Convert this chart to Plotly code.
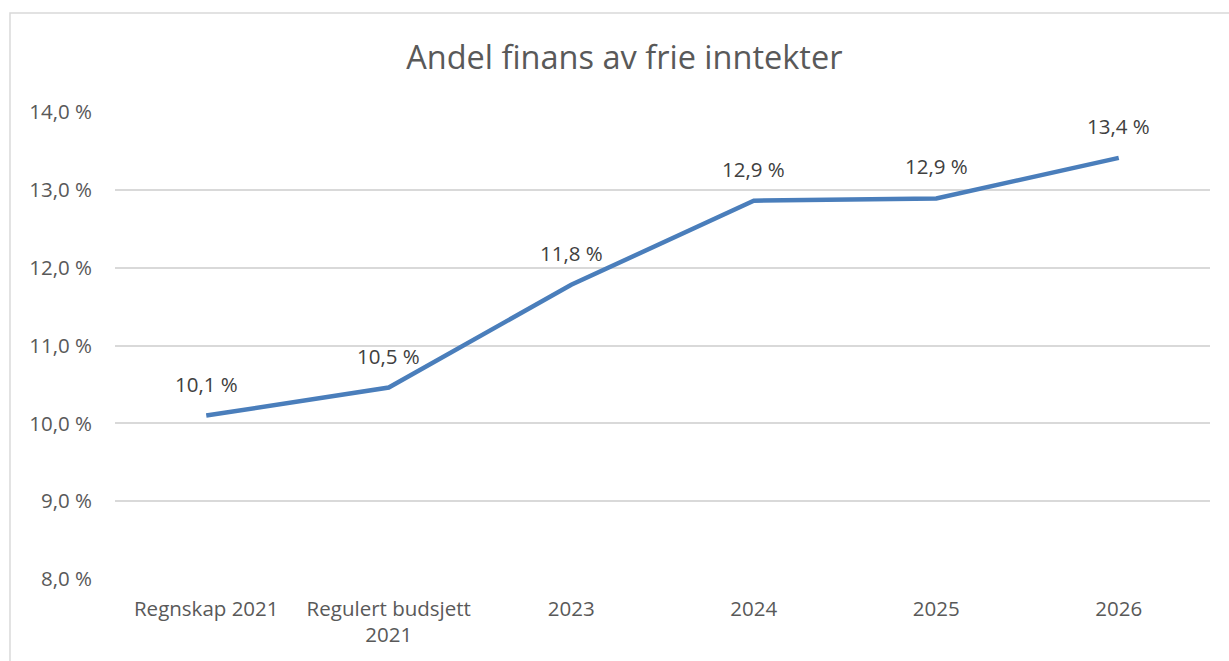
import plotly.graph_objects as go

categories = ["Regnskap 2021", "Regulert budsjett<br>2021", "2023", "2024", "2025", "2026"]
values = [10.1, 10.46, 11.78, 12.86, 12.89, 13.41]
tick_vals = [8, 9, 10, 11, 12, 13, 14]
tick_text = [f"{t:.1f}".replace(".", ",") + " %" for t in tick_vals]

FONT = "Open Sans, Liberation Sans, sans-serif"
GREY = "#595959"

fig = go.Figure()
fig.add_trace(go.Scatter(
    x=list(range(len(categories))), y=values, mode="lines",
    line=dict(color="#4a7ebb", width=4.5),
    hoverinfo="skip", showlegend=False,
))

for i, v in enumerate(values):
    fig.add_annotation(
        x=i, y=v, text=f"{v:.1f}".replace(".", ",") + " %",
        showarrow=False, yshift=32,
        font=dict(family=FONT, size=20.5, color="#404040"),
    )

fig.add_shape(type="rect", xref="paper", yref="paper",
              x0=-0.0959, y0=-0.4, x1=1.2, y1=1.212,
              line=dict(color="#d9d9d9", width=1.5), fillcolor="rgba(0,0,0,0)", layer="below")

fig.update_layout(
    width=1229, height=661,
    margin=dict(l=115, r=19, t=112, b=82),
    paper_bgcolor="white", plot_bgcolor="white",
    title=dict(text="Andel finans av frie inntekter", x=0.508, xanchor="center",
               y=1 - 58 / 661, yanchor="middle",
               font=dict(family=FONT, size=32.5, color=GREY)),
    xaxis=dict(range=[-0.5, 5.5], tickvals=list(range(len(categories))), ticktext=categories,
               showgrid=False, zeroline=False,
               showline=False, ticks="", tickfont=dict(family=FONT, size=20.5, color=GREY),
               ticklabelstandoff=15),
    yaxis=dict(range=[8, 14], tickvals=tick_vals, ticktext=tick_text,
               showgrid=True, gridcolor="#d9d9d9", gridwidth=1.5, zeroline=False,
               showline=False, ticks="", tickfont=dict(family=FONT, size=20.5, color=GREY),
               ticklabelstandoff=22),
)

fig.write_html("out.html", config={"displayModeBar": False},
               post_script="document.body.style.margin='0';")
